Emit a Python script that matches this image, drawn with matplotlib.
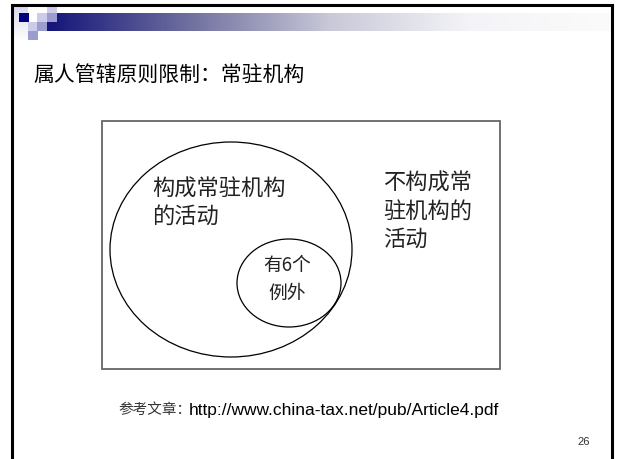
import numpy as np
import matplotlib.pyplot as plt
from matplotlib.patches import Rectangle, Ellipse
from matplotlib.colors import LinearSegmentedColormap

# slide text
title = "属人管辖原则限制：常驻机构"
inner_lines = ["构成常驻机构", "的活动"]
outer_lines = ["不构成常", "驻机构的", "活动"]
exception_lines = ["有6个", "例外"]
ref_label = "参考文章："
ref_url = "http://www.china-tax.net/pub/Article4.pdf"
page_no = "26"

CJK = ['Noto Sans CJK SC', 'DejaVu Sans']
W, H = 623, 459

fig = plt.figure(figsize=(W / 100, H / 100), dpi=100)
ax = fig.add_axes([0, 0, 1, 1])
ax.set_xlim(0, W)
ax.set_ylim(H, 0)
ax.axis('off')

# header gradient bar
cmap = LinearSegmentedColormap.from_list('bar', ['#14147a', '#6f6f9f', '#c8c8d8', '#f4f4f8', '#fbfbfb'])
grad = np.linspace(0, 1, 256).reshape(1, -1)
ax.imshow(grad, cmap=cmap, extent=[47, 611, 31, 13], aspect='auto', zorder=1)

# faint left strip
vgrad = np.linspace(0, 1, 64).reshape(-1, 1)
vcmap = LinearSegmentedColormap.from_list('strip', ['#d8d8ee', '#ffffff'])
ax.imshow(vgrad, cmap=vcmap, extent=[13, 28, 41, 6], aspect='auto', zorder=1)

# decoration squares (x, y, colour)
light, medium, navy = '#ccccea', '#9c9cce', '#000080'
squares = [(19, 13, navy), (37, 13, light), (47, 5, light), (47, 13, medium),
           (28, 22, light), (37, 22, medium), (28, 31, medium)]
for x, y, c in squares:
    ax.add_patch(Rectangle((x, y), 9.6, 9.3, color=c, lw=0, zorder=2))

# page frame
ax.plot([12, 12, 612, 612], [H, 4.5, 4.5, H], color='black', lw=2.2, zorder=3,
        solid_joinstyle='miter')

ax.text(33, 75, title, fontsize=15, family=CJK, va='center', ha='left', color='black')

# diagram
ax.add_patch(Rectangle((102, 121), 398, 248, fill=False, ec='#666666', lw=1.3))
ax.add_patch(Ellipse((231, 249.5), 242, 215, fill=False, ec='black', lw=0.9))
ax.add_patch(Ellipse((289, 283), 104, 88, fill=False, ec='black', lw=0.9))

for i, s in enumerate(inner_lines):
    ax.text(152, 189 + 27 * i, s, fontsize=16, family=CJK, va='center', ha='left', color='#222222')
for i, s in enumerate(outer_lines):
    ax.text(383, 183 + 28 * i, s, fontsize=16, family=CJK, va='center', ha='left', color='#222222')
for i, s in enumerate(exception_lines):
    ax.text(287, 266 + 27 * i, s, fontsize=13.5, family=CJK, va='center', ha='center', color='#222222')

ax.text(118, 410, ref_label, fontsize=10.5, family=CJK, va='center', ha='left', color='#333333')
ax.text(189, 410, ref_url, fontsize=12.5, family=['Liberation Sans'], va='center', ha='left',
        color='black')
ax.text(577, 442, page_no, fontsize=8, family=['Liberation Sans'], va='center', ha='left',
        color='#333333')

fig.savefig('out.png', dpi=100)
